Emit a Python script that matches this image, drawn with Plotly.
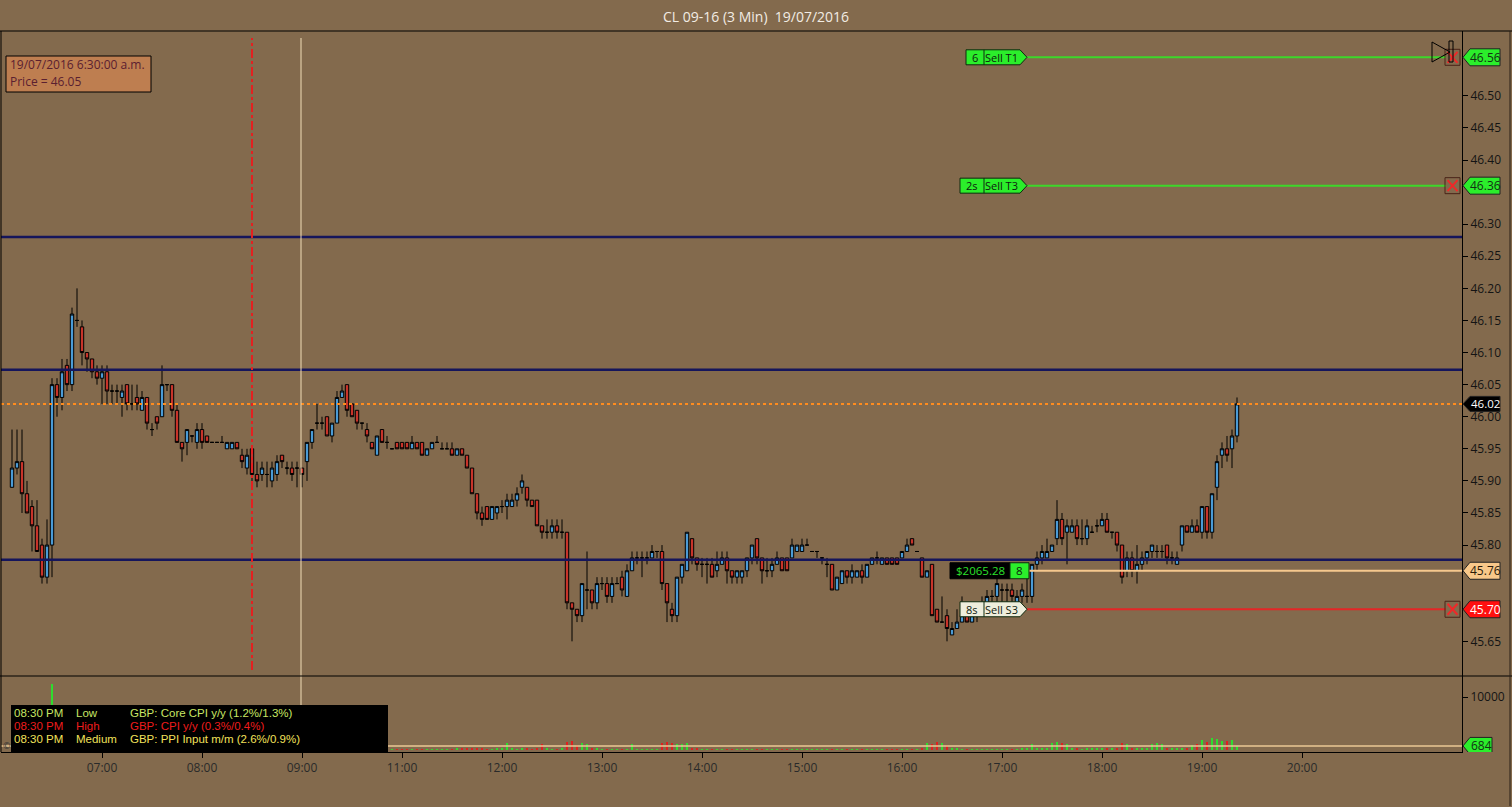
import plotly.graph_objects as go

# ---------------- data (3-minute bars, CL 09-16, 19/07/2016) ----------------
opens = [
    45.89, 45.92, 45.93, 45.88, 45.86, 45.83, 45.80, 45.75, 45.80, 46.05,
    46.03, 46.08, 46.05, 46.15, 46.14, 46.10, 46.09, 46.07, 46.06, 46.07,
    46.04, 46.04, 46.03, 46.05, 46.02, 46.03, 46.01, 46.03, 45.98, 46.00,
    46.00, 46.05, 46.05, 46.01, 45.96, 45.96, 45.97, 45.96, 45.98, 45.97,
    45.96, 45.96, 45.96, 45.95, 45.95, 45.96, 45.94, 45.92, 45.95, 45.91,
    45.91, 45.91, 45.90, 45.91, 45.94, 45.92, 45.92, 45.92, 45.92, 45.93,
    45.96, 45.99, 45.99, 46.00, 45.97, 45.99, 46.03, 46.05, 46.02, 46.01,
    45.99, 45.98, 45.96, 45.94, 45.98, 45.96, 45.95, 45.96, 45.96, 45.96,
    45.95, 45.96, 45.96, 45.94, 45.95, 45.96, 45.95, 45.95, 45.95, 45.94,
    45.95, 45.94, 45.92, 45.88, 45.85, 45.86, 45.84, 45.85, 45.86, 45.86,
    45.86, 45.87, 45.89, 45.89, 45.87, 45.87, 45.83, 45.82, 45.82, 45.83,
    45.82, 45.82, 45.71, 45.70, 45.69, 45.73, 45.73, 45.71, 45.74, 45.74,
    45.72, 45.74, 45.75, 45.72, 45.76, 45.78, 45.78, 45.78, 45.78, 45.79,
    45.79, 45.74, 45.70, 45.69, 45.75, 45.76, 45.81, 45.78, 45.77, 45.77,
    45.77, 45.76, 45.77, 45.78, 45.76, 45.75, 45.75, 45.76, 45.78, 45.81,
    45.78, 45.76, 45.76, 45.77, 45.78, 45.78, 45.78, 45.79, 45.79, 45.80,
    45.79, 45.79, 45.78, 45.77, 45.77, 45.73, 45.74, 45.76, 45.75, 45.75,
    45.76, 45.75, 45.77, 45.78, 45.77, 45.78, 45.78, 45.78, 45.78, 45.79,
    45.81, 45.79, 45.78, 45.75, 45.77, 45.70, 45.68, 45.69, 45.66, 45.67,
    45.68, 45.69, 45.68, 45.69, 45.70, 45.71, 45.72, 45.72, 45.73, 45.73,
    45.73, 45.71, 45.72, 45.72, 45.72, 45.77, 45.78, 45.78, 45.79, 45.81,
    45.84, 45.82, 45.82, 45.83, 45.81, 45.81, 45.82, 45.83, 45.83, 45.84,
    45.82, 45.82, 45.80, 45.76, 45.78, 45.76, 45.77, 45.78, 45.79, 45.79,
    45.79, 45.80, 45.78, 45.77, 45.80, 45.83, 45.82, 45.83, 45.82, 45.86,
    45.82, 45.89, 45.94, 45.95, 45.95, 45.97,
]
highs = [
    45.98, 45.98, 45.98, 45.90, 45.87, 45.87, 45.81, 45.84, 46.06, 46.06,
    46.09, 46.09, 46.17, 46.20, 46.15, 46.10, 46.09, 46.08, 46.08, 46.08,
    46.05, 46.05, 46.05, 46.05, 46.05, 46.05, 46.04, 46.03, 45.99, 46.00,
    46.08, 46.05, 46.05, 46.02, 45.96, 45.98, 45.97, 45.99, 45.99, 45.97,
    45.96, 45.96, 45.97, 45.96, 45.96, 45.96, 45.95, 45.95, 45.95, 45.93,
    45.93, 45.93, 45.93, 45.94, 45.94, 45.93, 45.93, 45.93, 45.92, 45.96,
    45.98, 46.02, 46.00, 46.00, 45.99, 46.04, 46.05, 46.05, 46.02, 46.01,
    45.99, 45.99, 45.96, 45.97, 45.98, 45.97, 45.95, 45.96, 45.96, 45.96,
    45.97, 45.96, 45.96, 45.95, 45.96, 45.97, 45.96, 45.96, 45.96, 45.95,
    45.95, 45.94, 45.92, 45.88, 45.86, 45.86, 45.86, 45.86, 45.87, 45.88,
    45.88, 45.89, 45.91, 45.89, 45.87, 45.87, 45.83, 45.84, 45.84, 45.84,
    45.84, 45.82, 45.71, 45.70, 45.74, 45.79, 45.73, 45.75, 45.75, 45.75,
    45.75, 45.75, 45.76, 45.77, 45.79, 45.79, 45.79, 45.79, 45.80, 45.79,
    45.80, 45.74, 45.71, 45.75, 45.77, 45.82, 45.81, 45.78, 45.78, 45.78,
    45.78, 45.79, 45.79, 45.79, 45.76, 45.76, 45.76, 45.78, 45.80, 45.81,
    45.78, 45.78, 45.78, 45.79, 45.78, 45.78, 45.81, 45.80, 45.81, 45.81,
    45.79, 45.79, 45.78, 45.78, 45.77, 45.75, 45.76, 45.76, 45.77, 45.76,
    45.77, 45.77, 45.78, 45.79, 45.78, 45.78, 45.78, 45.78, 45.79, 45.81,
    45.81, 45.79, 45.78, 45.76, 45.77, 45.70, 45.72, 45.70, 45.68, 45.70,
    45.72, 45.69, 45.70, 45.71, 45.72, 45.73, 45.73, 45.75, 45.74, 45.74,
    45.74, 45.73, 45.74, 45.76, 45.77, 45.79, 45.80, 45.81, 45.80, 45.87,
    45.85, 45.84, 45.84, 45.84, 45.84, 45.84, 45.83, 45.84, 45.85, 45.85,
    45.82, 45.82, 45.80, 45.79, 45.79, 45.80, 45.79, 45.79, 45.80, 45.80,
    45.80, 45.80, 45.79, 45.79, 45.83, 45.83, 45.84, 45.84, 45.86, 45.86,
    45.88, 45.94, 45.96, 45.97, 45.98, 46.03,
]
lows = [
    45.89, 45.91, 45.85, 45.85, 45.79, 45.79, 45.74, 45.74, 45.75, 46.00,
    46.01, 46.04, 46.04, 46.14, 46.08, 46.07, 46.06, 46.05, 46.02, 46.02,
    46.02, 46.02, 46.00, 46.01, 46.01, 46.01, 46.01, 45.98, 45.97, 45.98,
    46.00, 46.04, 46.00, 45.96, 45.93, 45.94, 45.96, 45.95, 45.95, 45.96,
    45.96, 45.96, 45.96, 45.95, 45.95, 45.95, 45.92, 45.91, 45.89, 45.89,
    45.90, 45.89, 45.89, 45.90, 45.92, 45.91, 45.90, 45.89, 45.89, 45.90,
    45.95, 45.98, 45.98, 45.97, 45.96, 45.99, 46.03, 46.00, 46.00, 45.98,
    45.98, 45.96, 45.95, 45.94, 45.96, 45.95, 45.95, 45.95, 45.95, 45.95,
    45.95, 45.95, 45.94, 45.94, 45.95, 45.96, 45.95, 45.95, 45.94, 45.94,
    45.94, 45.92, 45.88, 45.84, 45.83, 45.84, 45.84, 45.84, 45.85, 45.84,
    45.86, 45.86, 45.88, 45.86, 45.86, 45.83, 45.81, 45.81, 45.81, 45.81,
    45.81, 45.70, 45.65, 45.68, 45.68, 45.70, 45.70, 45.70, 45.73, 45.71,
    45.71, 45.74, 45.72, 45.72, 45.76, 45.77, 45.75, 45.77, 45.78, 45.78,
    45.73, 45.68, 45.68, 45.68, 45.74, 45.76, 45.77, 45.76, 45.75, 45.74,
    45.75, 45.75, 45.77, 45.74, 45.74, 45.74, 45.74, 45.75, 45.77, 45.77,
    45.74, 45.75, 45.75, 45.77, 45.76, 45.76, 45.78, 45.79, 45.79, 45.80,
    45.79, 45.78, 45.77, 45.75, 45.73, 45.73, 45.74, 45.74, 45.74, 45.75,
    45.74, 45.75, 45.77, 45.77, 45.77, 45.77, 45.77, 45.77, 45.78, 45.79,
    45.80, 45.79, 45.75, 45.75, 45.69, 45.68, 45.68, 45.65, 45.66, 45.67,
    45.68, 45.68, 45.68, 45.68, 45.69, 45.70, 45.71, 45.71, 45.71, 45.71,
    45.71, 45.70, 45.71, 45.71, 45.71, 45.76, 45.77, 45.78, 45.79, 45.80,
    45.80, 45.77, 45.82, 45.80, 45.80, 45.80, 45.82, 45.82, 45.83, 45.82,
    45.81, 45.79, 45.74, 45.75, 45.75, 45.74, 45.76, 45.77, 45.78, 45.78,
    45.78, 45.77, 45.77, 45.77, 45.79, 45.82, 45.82, 45.82, 45.81, 45.81,
    45.81, 45.87, 45.92, 45.93, 45.92, 45.96,
]
closes = [
    45.92, 45.93, 45.88, 45.85, 45.83, 45.79, 45.75, 45.80, 46.05, 46.03,
    46.07, 46.05, 46.16, 46.15, 46.10, 46.09, 46.07, 46.06, 46.07, 46.04,
    46.04, 46.04, 46.04, 46.02, 46.02, 46.02, 46.03, 45.99, 45.98, 45.99,
    46.05, 46.05, 46.01, 45.96, 45.95, 45.98, 45.97, 45.98, 45.96, 45.96,
    45.96, 45.96, 45.96, 45.96, 45.96, 45.95, 45.93, 45.94, 45.91, 45.90,
    45.92, 45.91, 45.92, 45.93, 45.93, 45.92, 45.91, 45.92, 45.91, 45.96,
    45.98, 45.99, 45.99, 45.97, 45.99, 46.03, 46.04, 46.01, 46.00, 45.99,
    45.99, 45.97, 45.95, 45.97, 45.96, 45.96, 45.95, 45.95, 45.95, 45.95,
    45.96, 45.95, 45.94, 45.95, 45.96, 45.96, 45.95, 45.95, 45.94, 45.95,
    45.94, 45.92, 45.88, 45.85, 45.84, 45.84, 45.86, 45.86, 45.86, 45.87,
    45.87, 45.88, 45.90, 45.87, 45.86, 45.83, 45.82, 45.82, 45.83, 45.82,
    45.82, 45.71, 45.70, 45.69, 45.74, 45.73, 45.71, 45.74, 45.74, 45.72,
    45.74, 45.74, 45.73, 45.76, 45.78, 45.78, 45.78, 45.78, 45.79, 45.79,
    45.74, 45.71, 45.69, 45.75, 45.77, 45.82, 45.78, 45.77, 45.77, 45.77,
    45.75, 45.77, 45.78, 45.76, 45.75, 45.76, 45.76, 45.78, 45.80, 45.78,
    45.76, 45.76, 45.77, 45.78, 45.76, 45.76, 45.80, 45.80, 45.80, 45.80,
    45.79, 45.79, 45.78, 45.77, 45.73, 45.75, 45.76, 45.75, 45.76, 45.76,
    45.75, 45.77, 45.78, 45.78, 45.78, 45.77, 45.77, 45.77, 45.79, 45.80,
    45.80, 45.79, 45.75, 45.76, 45.69, 45.68, 45.68, 45.67, 45.67, 45.68,
    45.69, 45.68, 45.69, 45.70, 45.71, 45.72, 45.72, 45.74, 45.73, 45.73,
    45.72, 45.72, 45.73, 45.72, 45.77, 45.78, 45.79, 45.79, 45.80, 45.84,
    45.81, 45.83, 45.83, 45.81, 45.81, 45.83, 45.82, 45.83, 45.84, 45.82,
    45.82, 45.80, 45.75, 45.78, 45.76, 45.77, 45.78, 45.79, 45.80, 45.79,
    45.79, 45.78, 45.78, 45.78, 45.83, 45.82, 45.83, 45.82, 45.86, 45.82,
    45.88, 45.93, 45.95, 45.94, 45.97, 46.02,
]
volumes = [
    3200, 2100, 2800, 1900, 2500, 2200, 3100, 2600, 12400, 5200,
    4300, 3800, 6100, 7400, 4800, 3300, 2900, 2400, 2600, 2100,
    1800, 1600, 1900, 1700, 1500, 1400, 1800, 2200, 1300, 1600,
    2700, 1500, 1900, 2300, 1700, 1500, 1200, 1400, 1600, 1300,
    1100, 900, 1000, 1200, 950, 1400, 1500, 1300, 2400, 1800,
    1600, 1200, 1400, 1300, 1100, 900, 1000, 1200, 1100, 2000,
    1600, 1800, 1300, 1400, 1500, 2100, 1700, 1900, 1400, 1200,
    900, 1000, 1100, 1300, 1200, 800, 90, 70, 60, 80,
    70, 60, 90, 70, 60, 70, 80, 80, 90, 100,
    110, 160, 140, 120, 100, 90, 80, 100, 110, 1150,
    100, 80, 110, 100, 80, 120, 1100, 100, 80, 90,
    110, 1450, 1600, 950, 1200, 1050, 130, 110, 90, 80,
    90, 70, 80, 80, 1100, 90, 80, 70, 90, 80,
    1200, 1350, 1300, 1000, 1100, 1150, 130, 110, 90, 80,
    70, 80, 70, 60, 80, 70, 70, 80, 90, 70,
    70, 60, 80, 70, 70, 60, 80, 70, 70, 80,
    60, 60, 70, 70, 80, 70, 60, 70, 70, 60,
    70, 70, 60, 70, 70, 80, 70, 60, 80, 70,
    90, 80, 110, 1300, 1100, 1350, 1200, 950, 130, 110,
    90, 80, 90, 80, 70, 90, 80, 70, 70, 80,
    90, 90, 100, 100, 1100, 110, 120, 130, 1300, 1450,
    1200, 1000, 110, 100, 90, 110, 100, 100, 110, 110,
    100, 120, 1200, 1100, 130, 120, 110, 110, 1000, 1200,
    1100, 120, 130, 120, 140, 130, 950, 1100, 1800, 1500,
    2200, 2000, 1700, 1600, 1900, 684,
]
tick_bars = [18, 38, 58, 78, 98, 118, 138, 158, 178, 198, 218, 238, 258]
tick_labels = ["07:00", "08:00", "09:00", "11:00", "12:00", "13:00", "14:00",
               "15:00", "16:00", "17:00", "18:00", "19:00", "20:00"]
price_ticks = [45.65, 45.70, 45.80, 45.85, 45.90, 45.95, 46.00, 46.05, 46.10,
               46.15, 46.20, 46.25, 46.30, 46.40, 46.45, 46.50]
sr_levels = [46.28, 46.073, 45.777]          # navy support / resistance lines
last_price = 46.02
target_t1, target_t3 = 46.56, 46.36
entry_price, stop_s3 = 45.76, 45.70
last_volume = 684
event_bar = 48            # 08:30 news event
session_break = 57.8
event_times = ["08:30 PM", "08:30 PM", "08:30 PM"]
event_levels = ["Low", "High", "Medium"]
event_texts = ["GBP: Core CPI y/y (1.2%/1.3%)", "GBP: CPI y/y (0.3%/0.4%)",
               "GBP: PPI Input m/m (2.6%/0.9%)"]
event_colors = ["#C8E664", "#EE1C1C", "#F2E25A"]

# ---------------- geometry / style ----------------
W, H = 1512, 807
PL, PT, PW, PH = 1, 31, 1461, 721
MAIN_TOP, SPLIT, BOT = 31, 676, 752
BG = "#836A4D"
UP, DN = "#4A9BD6", "#C8342A"
NAVY = "#15155C"
GREEN = "#2BEE2B"
FONT = "Open Sans"

def fx(p):
    return (p - PL) / PW

def fy(p):
    return (PT + PH - p) / PH

vol_split = (BOT - SPLIT) / PH
y_range = [45.596, 46.601]
v_range = [-476, 14000]
x_range = [-2.2, 290.0]
ppu = (SPLIT - MAIN_TOP) / (y_range[1] - y_range[0])
vppu = (BOT - SPLIT) / (v_range[1] - v_range[0])

idx = list(range(len(closes)))
vol_colors = ["#2EDC2E" if c >= o else "#E02020" for o, c in zip(opens, closes)]

fig = go.Figure()
fig.add_trace(go.Candlestick(
    x=idx, open=opens, high=highs, low=lows, close=closes,
    increasing=dict(fillcolor=UP, line=dict(color="#000000", width=1)),
    decreasing=dict(fillcolor=DN, line=dict(color="#000000", width=1)),
    whiskerwidth=0, xaxis="x", yaxis="y", showlegend=False, hoverinfo="skip"))
fig.add_trace(go.Bar(
    x=idx, y=volumes, marker=dict(color=vol_colors, line=dict(width=0)),
    width=0.25, xaxis="x2", yaxis="y2", showlegend=False, hoverinfo="skip"))

shapes = []
ann = []

# support / resistance and last price lines
for lv in sr_levels:
    shapes.append(dict(type="line", xref="paper", yref="y", x0=0, x1=1, y0=lv, y1=lv,
                       line=dict(color=NAVY, width=2.5)))
shapes.append(dict(type="line", xref="paper", yref="y", x0=0, x1=1, y0=last_price, y1=last_price,
                   line=dict(color="#FF8C1E", width=2, dash="dot")))
# vertical markers
shapes.append(dict(type="line", xref="x", yref="paper", x0=session_break, x1=session_break,
                   y0=fy(38), y1=fy(BOT), line=dict(color="#F2DEB8", width=1)))
shapes.append(dict(type="line", xref="x", yref="paper", x0=event_bar, x1=event_bar,
                   y0=fy(670), y1=fy(38), line=dict(color="#E42020", width=2, dash="dashdot")))

# order lines
shapes.append(dict(type="line", xref="paper", yref="y", x0=fx(1027), x1=fx(1446), y0=target_t1, y1=target_t1,
                   line=dict(color="#3CD82A", width=2)))
shapes.append(dict(type="line", xref="paper", yref="y", x0=fx(1027), x1=fx(1446), y0=target_t3, y1=target_t3,
                   line=dict(color="#3CD82A", width=2)))
shapes.append(dict(type="line", xref="paper", yref="y", x0=fx(1029), x1=1, y0=entry_price, y1=entry_price,
                   line=dict(color="#F6C88E", width=2)))
shapes.append(dict(type="line", xref="paper", yref="y", x0=fx(1027), x1=fx(1446), y0=stop_s3, y1=stop_s3,
                   line=dict(color="#E42626", width=2)))

# order labels (pentagons)
def order_label(yv, left, qty, name, fill):
    h = 7.5 / ppu
    path = (f"M {fx(left)},{yv-h} L {fx(1020)},{yv-h} L {fx(1027)},{yv} "
            f"L {fx(1020)},{yv+h} L {fx(left)},{yv+h} Z")
    shapes.append(dict(type="path", xref="paper", yref="y", path=path, fillcolor=fill,
                       line=dict(color="#0E2A0E", width=1), layer="above"))
    shapes.append(dict(type="line", xref="paper", yref="y", x0=fx(984), x1=fx(984), y0=yv-h, y1=yv+h,
                       line=dict(color="#0E2A0E", width=1), layer="above"))
    ann.append(dict(xref="paper", yref="y", x=fx((left + 984) / 2), y=yv, text=qty, showarrow=False,
                    xanchor="center", yanchor="middle", font=dict(family=FONT, size=11, color="#0E200E")))
    ann.append(dict(xref="paper", yref="y", x=fx(1002), y=yv, text=name, showarrow=False,
                    xanchor="center", yanchor="middle", font=dict(family=FONT, size=11, color="#0E200E")))

order_label(target_t1, 966, "6", "Sell T1", GREEN)
order_label(target_t3, 960, "2s", "Sell T3", GREEN)
order_label(stop_s3, 960, "8s", "Sell S3", "#EEEEDC")

# P&L box
h = 8 / ppu
shapes.append(dict(type="rect", xref="paper", yref="y", x0=fx(950), x1=fx(1010), y0=entry_price-h, y1=entry_price+h,
                   fillcolor="#000000", line=dict(color="#000000", width=1), layer="above"))
shapes.append(dict(type="rect", xref="paper", yref="y", x0=fx(1010), x1=fx(1029), y0=entry_price-h, y1=entry_price+h,
                   fillcolor=GREEN, line=dict(color="#0E2A0E", width=1), layer="above"))
ann.append(dict(xref="paper", yref="y", x=fx(980), y=entry_price, text="$2065.28", showarrow=False,
                xanchor="center", yanchor="middle", font=dict(family=FONT, size=11.5, color="#2CE02C")))
ann.append(dict(xref="paper", yref="y", x=fx(1019.5), y=entry_price, text="8", showarrow=False,
                xanchor="center", yanchor="middle", font=dict(family=FONT, size=11.5, color="#0E200E")))

# cancel (X) boxes
for yv in (target_t1, target_t3, stop_s3):
    h = 8 / ppu
    shapes.append(dict(type="rect", xref="paper", yref="y", x0=fx(1445), x1=fx(1460), y0=yv-h, y1=yv+h,
                       line=dict(color="#4A2418", width=1), layer="above"))
    hh = 5.5 / ppu
    for s in (1, -1):
        shapes.append(dict(type="line", xref="paper", yref="y", x0=fx(1447.5), x1=fx(1457.5),
                           y0=yv - s*hh, y1=yv + s*hh, line=dict(color="#F02828", width=2), layer="above"))

# position marker (top right)
shapes.append(dict(type="path", xref="paper", yref="paper",
                   path=f"M {fx(1432)},{fy(42)} L {fx(1450)},{fy(52)} L {fx(1432)},{fy(62)} Z",
                   line=dict(color="#000000", width=1), layer="above"))
shapes.append(dict(type="rect", xref="paper", yref="paper", x0=fx(1449), x1=fx(1453), y0=fy(62), y1=fy(41),
                   line=dict(color="#000000", width=1), layer="above"))

# right-axis price tags
def tag(yv, text, fill, fcolor, yref, scale, width, half=8.5, size=12):
    h = half / scale
    path = (f"M {fx(1463)},{yv} L {fx(1470)},{yv+h} L {fx(1470+width)},{yv+h} "
            f"L {fx(1470+width)},{yv-h} L {fx(1470)},{yv-h} Z")
    shapes.append(dict(type="path", xref="paper", yref=yref, path=path, fillcolor=fill,
                       line=dict(color="#222222", width=1), layer="above"))
    ann.append(dict(xref="paper", yref=yref, x=fx(1470 + width / 2), y=yv, text=text, showarrow=False,
                    xanchor="center", yanchor="middle", font=dict(family=FONT, size=size, color=fcolor)))

tag(target_t1, f"{target_t1:.2f}", GREEN, "#143014", "y", ppu, 30)
tag(target_t3, f"{target_t3:.2f}", GREEN, "#143014", "y", ppu, 30)
tag(last_price, f"{last_price:.2f}", "#000000", "#FFFFFF", "y", ppu, 30, half=7.5, size=11.5)
tag(entry_price, f"{entry_price:.2f}", "#F8C88A", "#2A1A08", "y", ppu, 30)
tag(stop_s3, f"{stop_s3:.2f}", "#FF1010", "#FFFFFF", "y", ppu, 30)
shapes.append(dict(type="line", xref="paper", yref="y2", x0=0, x1=1, y0=last_volume, y1=last_volume,
                   line=dict(color="#EAC894", width=1.5)))
tag(last_volume, str(last_volume), GREEN, "#143014", "y2", vppu, 22)

# frame lines
shapes.append(dict(type="line", xref="paper", yref="paper", x0=fx(0), x1=fx(W), y0=1, y1=1,
                   line=dict(color="#000000", width=1)))
shapes.append(dict(type="line", xref="paper", yref="paper", x0=fx(0), x1=fx(W), y0=vol_split, y1=vol_split,
                   line=dict(color="#000000", width=1)))
shapes.append(dict(type="line", xref="paper", yref="paper", x0=0, x1=0, y0=0, y1=1,
                   line=dict(color="#000000", width=1)))
shapes.append(dict(type="line", xref="paper", yref="paper", x0=fx(1510), x1=fx(1510), y0=fy(806), y1=1,
                   line=dict(color="#2A2018", width=1)))

# info box
shapes.append(dict(type="rect", xref="paper", yref="paper", x0=fx(6), x1=fx(151), y0=fy(92), y1=fy(56),
                   fillcolor="#BE7E50", line=dict(color="#000000", width=1), layer="above"))
ann.append(dict(xref="paper", yref="paper", x=fx(8), y=fy(65), text="19/07/2016 6:30:00 a.m.", showarrow=False,
                xanchor="left", yanchor="middle", font=dict(family=FONT, size=12, color="#5A2030")))
ann.append(dict(xref="paper", yref="paper", x=fx(8), y=fy(82), text="Price = 46.05", showarrow=False,
                xanchor="left", yanchor="middle", font=dict(family=FONT, size=12, color="#5A2030")))

# news table
shapes.append(dict(type="rect", xref="paper", yref="paper", x0=fx(11), x1=fx(388), y0=0, y1=fy(705),
                   fillcolor="#000000", line=dict(color="#000000", width=0), layer="above"))
for r, (t, lv, tx, col) in enumerate(zip(event_times, event_levels, event_texts, event_colors)):
    yy = fy(713 + 13 * r)
    for xp, s in ((12, t), (74, lv), (128, tx)):
        ann.append(dict(xref="paper", yref="paper", x=fx(xp), y=yy, text=s, showarrow=False,
                        xanchor="left", yanchor="middle",
                        font=dict(family="Liberation Sans", size=11.5, color=col)))
ann.append(dict(xref="paper", yref="paper", x=fx(1), y=fy(745), text="©", showarrow=False,
                xanchor="left", yanchor="middle", font=dict(family=FONT, size=9, color="#333333")))

# title
ann.append(dict(xref="paper", yref="paper", x=fx(756), y=fy(16), text="CL 09-16 (3 Min)  19/07/2016",
                showarrow=False, xanchor="center", yanchor="middle",
                font=dict(family=FONT, size=14, color="#F2ECE4")))

axis_font = dict(family=FONT, size=12, color="#141414")
fig.update_layout(
    width=W, height=H,
    margin=dict(l=PL, r=W - PL - PW, t=PT, b=H - PT - PH, autoexpand=False),
    paper_bgcolor=BG, plot_bgcolor=BG,
    showlegend=False, hovermode=False, boxgap=0.03, bargap=0,
    xaxis=dict(domain=[0, 1], anchor="y", range=x_range, showticklabels=False, showgrid=False,
               zeroline=False, rangeslider=dict(visible=False), ticks=""),
    xaxis2=dict(domain=[0, 1], anchor="y2", range=x_range, tickmode="array", tickvals=tick_bars,
                ticktext=tick_labels, ticks="outside", ticklen=5, tickcolor="#000000",
                showline=True, linecolor="#000000", linewidth=1, showgrid=False, zeroline=False,
                tickfont=dict(family=FONT, size=12, color="#2A2A2A")),
    yaxis=dict(domain=[vol_split, 1], anchor="x", side="right", range=y_range, tickmode="array",
               tickvals=price_ticks, ticktext=[f"{v:.2f}" for v in price_ticks], ticks="outside", ticklen=5,
               tickcolor="#000000", showline=True, linecolor="#000000", linewidth=1,
               showgrid=False, zeroline=False, tickfont=axis_font),
    yaxis2=dict(domain=[0, vol_split], anchor="x2", side="right", range=v_range, tickmode="array",
                tickvals=[10000], ticktext=["10000"], ticks="outside", ticklen=5, tickcolor="#000000",
                showline=True, linecolor="#000000", linewidth=1, showgrid=False, zeroline=False,
                tickfont=axis_font),
    shapes=shapes, annotations=ann,
)

fig.write_html("out.html", config={"displayModeBar": False}, post_script=(
    "document.body.style.margin='0';document.body.style.overflow='hidden';"
    "document.body.style.background='" + BG + "';"))
